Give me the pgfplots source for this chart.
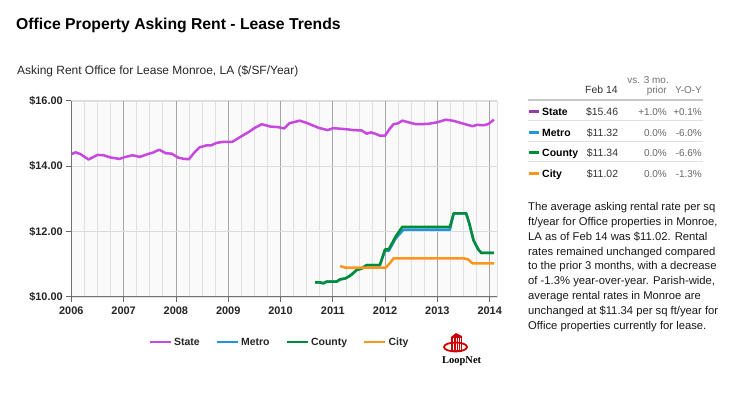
\documentclass[border=0pt]{standalone}
\usepackage{pgfplots}
\pgfplotsset{compat=1.18}
\usepackage{fontspec}
\setmainfont{Liberation Sans}
\newfontfamily\logofont{Liberation Serif}
\definecolor{statec}{RGB}{198,72,222}
\definecolor{metroc}{RGB}{30,150,215}
\definecolor{countyc}{RGB}{0,140,55}
\definecolor{cityc}{RGB}{250,150,30}
\definecolor{statem}{RGB}{150,60,170}
\definecolor{logored}{RGB}{204,0,0}
\begin{document}
\begin{tikzpicture}[x=1bp,y=1bp]
\path[use as bounding box,fill=white] (0,0) rectangle (743,399);
% titles
\node[anchor=base west,inner sep=0] at (16,369.5) {\fontsize{15.8}{18}\selectfont\bfseries Office Property Asking Rent - Lease Trends};
\node[anchor=base west,inner sep=0,text=black!85] at (17,324.5) {\fontsize{12}{14}\selectfont Asking Rent Office for Lease Monroe, LA (\$/SF/Year)};
\begin{axis}[
  at={(71.3bp,102.3bp)}, anchor=south west, scale only axis,
  width=425.4bp, height=196bp,
  xmin=2006, xmax=2014.134, ymin=10, ymax=16,
  axis x line*=bottom, axis y line*=left,
  axis line style={draw=black!55, line width=0.8bp, -},
  axis background/.style={fill=black!2, draw=black!12},
  xtick={2006,2007,2008,2009,2010,2011,2012,2013,2014}, minor x tick num=3,
  ytick={10,12,14,16},
  xmajorgrids, xminorgrids, ymajorgrids,
  major x grid style={draw=black!35, line width=0.7bp},
  minor x grid style={draw=black!12, line width=0.7bp},
  major y grid style={draw=black!14, line width=0.7bp},
  tick align=outside, major tick length=5bp, minor tick length=0pt,
  tick style={draw=black!60, line width=0.8bp},
  /pgf/number format/assume math mode=true,
  /pgf/number format/1000 sep={},
  xticklabel style={font=\fontsize{11}{13}\selectfont\bfseries, text=black!85, yshift=-2bp},
  yticklabel style={font=\fontsize{11}{13}\selectfont\bfseries, text=black!85},
  yticklabel={\$\pgfmathprintnumber[fixed,fixed zerofill,precision=2]{\tick}},
  legend columns=4,
  legend style={draw=none, fill=none, at={(axis description cs:0.4894,-0.232)}, anchor=center,
    font=\fontsize{10.5}{12}\selectfont\bfseries, text=black!85,
    /tikz/every even column/.append style={column sep=14bp}},
  legend image code/.code={\draw[#1,line width=2.5bp] (0bp,0bp) -- (21bp,0bp);},
  every axis plot/.append style={line width=2.5bp, line join=round, no marks},
]
\addplot[statec] coordinates {
(2006.00,14.36) (2006.08,14.42) (2006.17,14.37) (2006.33,14.20) (2006.50,14.34) (2006.62,14.33)
(2006.75,14.26) (2006.92,14.22) (2007.04,14.28) (2007.17,14.33) (2007.31,14.28) (2007.45,14.36)
(2007.56,14.41) (2007.68,14.50) (2007.81,14.39) (2007.92,14.38) (2008.04,14.26) (2008.15,14.22)
(2008.25,14.21) (2008.34,14.39) (2008.45,14.57) (2008.58,14.63) (2008.67,14.63) (2008.78,14.71)
(2008.91,14.74) (2009.08,14.74) (2009.22,14.88) (2009.38,15.03) (2009.51,15.17) (2009.64,15.28)
(2009.80,15.21) (2009.96,15.19) (2010.07,15.15) (2010.17,15.31) (2010.37,15.39) (2010.50,15.32)
(2010.73,15.17) (2010.90,15.10) (2011.01,15.16) (2011.30,15.12) (2011.39,15.10) (2011.55,15.09)
(2011.65,14.99) (2011.73,15.03) (2011.81,14.99) (2011.90,14.93) (2012.00,14.93) (2012.07,15.10)
(2012.16,15.28) (2012.25,15.31) (2012.33,15.39) (2012.49,15.32) (2012.59,15.28) (2012.82,15.29)
(2013.00,15.34) (2013.16,15.42) (2013.32,15.38) (2013.51,15.29) (2013.67,15.22) (2013.76,15.26)
(2013.89,15.25) (2013.98,15.29) (2014.08,15.42)
};
\addlegendentry{State}
\addplot[metroc] coordinates {
(2010.66,10.44) (2010.75,10.44) (2010.82,10.41) (2010.88,10.46) (2011.07,10.46) (2011.14,10.53)
(2011.24,10.56) (2011.33,10.64) (2011.46,10.82) (2011.55,10.86) (2011.65,10.97) (2011.90,10.97)
(2012.00,11.42) (2012.07,11.40) (2012.20,11.78) (2012.35,12.05) (2013.24,12.05) (2013.31,12.55)
(2013.55,12.55) (2013.61,12.24) (2013.69,11.73) (2013.78,11.45) (2013.84,11.34) (2014.08,11.34)
};
\addlegendentry{Metro}
\addplot[countyc] coordinates {
(2010.66,10.44) (2010.75,10.44) (2010.82,10.41) (2010.88,10.46) (2011.07,10.46) (2011.14,10.53)
(2011.24,10.56) (2011.33,10.64) (2011.46,10.82) (2011.55,10.86) (2011.65,10.97) (2011.90,10.97)
(2012.00,11.45) (2012.07,11.45) (2012.20,11.84) (2012.33,12.14) (2013.24,12.14) (2013.31,12.55)
(2013.55,12.55) (2013.61,12.24) (2013.69,11.73) (2013.78,11.45) (2013.84,11.34) (2014.08,11.34)
};
\addlegendentry{County}
\addplot[cityc] coordinates {
(2011.14,10.94) (2011.24,10.89) (2012.01,10.89) (2012.09,11.02) (2012.16,11.17) (2013.52,11.17)
(2013.59,11.14) (2013.67,11.02) (2014.08,11.02)
};
\addlegendentry{City}
\end{axis}
% table header
\begin{scope}[every node/.style={inner sep=0, font=\fontsize{10.5}{12}\selectfont}]
\node[anchor=base east,text=black!55,font=\fontsize{10}{12}\selectfont] at (669,316) {vs. 3 mo.};
\node[anchor=base east,text=black!80] at (618,306) {Feb 14};
\node[anchor=base east,text=black!55,font=\fontsize{10}{12}\selectfont] at (667,306) {prior};
\node[anchor=base east,text=black!55,font=\fontsize{10}{12}\selectfont] at (702,306) {Y-O-Y};
\fill[black!22] (528,298) rectangle (703,300);
\foreach \yy in {278.3,257.3,237.3} {\fill[black!12] (528,\yy-0.5) rectangle (703,\yy+0.5);}
% rows
\foreach \bl/\nm/\cl/\va/\pa/\pb in {283.5/State/statem/15.46/+1.0\%/+0.1\%, 263/Metro/metroc/11.32/0.0\%/-6.0\%, 242.2/County/countyc/11.34/0.0\%/-6.6\%, 221.7/City/cityc/11.02/0.0\%/-1.3\%} {
  \fill[\cl] (529,\bl+2.5) rectangle (539,\bl+5.5);
  \node[anchor=base west,text=black] at (542,\bl) {\bfseries\nm};
  \node[anchor=base east,text=black!80] at (618.3,\bl) {\$\va};
  \node[anchor=base east,text=black!60,font=\fontsize{10}{12}\selectfont] at (667,\bl) {\pa};
  \node[anchor=base east,text=black!60,font=\fontsize{10}{12}\selectfont] at (702,\bl) {\pb};
}
\end{scope}
% paragraph
\begin{scope}[every node/.style={inner sep=0, anchor=base west, text=black!90, font=\fontsize{11.3}{14}\selectfont}]
\node at (528,188.3) {The average asking rental rate per sq};
\node at (528,173.5) {ft/year for Office properties in Monroe,};
\node at (528,158.7) {LA as of Feb 14 was \$11.02. Rental};
\node at (528,143.9) {rates remained unchanged compared};
\node at (528,129.1) {to the prior 3 months, with a decrease};
\node at (528,114.3) {of -1.3\% year-over-year. Parish-wide,};
\node at (528,99.5) {average rental rates in Monroe are};
\node at (528,84.7) {unchanged at \$11.34 per sq ft/year for};
\node at (528,69.9) {Office properties currently for lease.};
\end{scope}
% logo
\fill[logored] (451,47) rectangle (462,62);
\fill[logored] (451,62) -- (456,66) -- (462,63) -- (462,62) -- cycle;
\foreach \xx in {453.2,455.6,458,460.2} {\fill[white] (\xx,49) rectangle (\xx+0.8,61);}
\draw[logored,line width=1.8bp] (455.5,52) ellipse (11.5 and 4.5);
\fill[white] (449,49.5) rectangle (451,52);
\node[anchor=base west,inner sep=0] at (442,36) {\logofont\bfseries\fontsize{10.5}{12}\selectfont LoopNet};
\end{tikzpicture}
\end{document}
